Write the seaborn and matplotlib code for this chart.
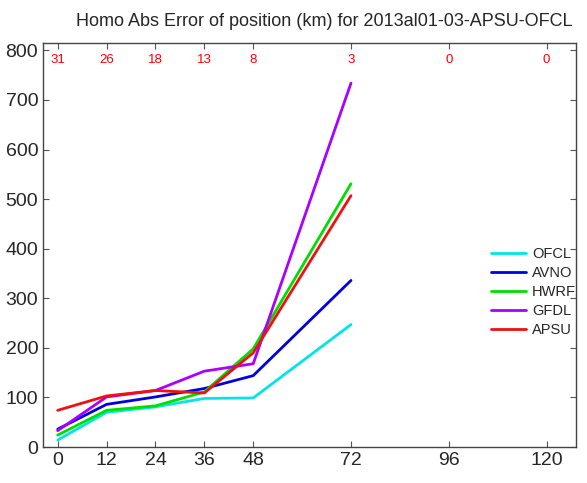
import matplotlib
matplotlib.use("Agg")

import matplotlib.pyplot as plt
import pandas as pd
import seaborn as sns

# forecast hours and the sample counts shown along the top
hours = [0, 12, 24, 36, 48, 72]
tick_hours = [0, 12, 24, 36, 48, 72, 96, 120]
counts = [31, 26, 18, 13, 8, 3, 0, 0]

models = ["OFCL", "AVNO", "HWRF", "GFDL", "APSU"]
ofcl = [14, 70, 81, 98, 99, 247]
avno = [36, 86, 101, 118, 144, 336]
hwrf = [24, 74, 83, 111, 198, 531]
gfdl = [33, 101, 114, 153, 168, 734]
apsu = [74, 103, 114, 109, 190, 507]

colors = ["#00e6e6", "#0000dd", "#00dd00", "#aa00ff", "#ee1111"]

rows = []
for name, vals in zip(models, [ofcl, avno, hwrf, gfdl, apsu]):
    for h, v in zip(hours, vals):
        rows.append({"hour": h, "error": v, "model": name})
df = pd.DataFrame(rows)

sns.set_style("ticks")
plt.rcParams["font.family"] = ["Liberation Sans", "DejaVu Sans"]

fig = plt.figure(figsize=(5.87, 4.83), dpi=100)
ax = fig.add_axes([0.0733, 0.0745, 0.9077, 0.8365])

sns.lineplot(data=df, x="hour", y="error", hue="model", hue_order=models,
             palette=colors, linewidth=2.0, ax=ax)

ax.set_xlim(-3.6, 127.2)
ax.set_ylim(0, 815)
ax.set_xticks(tick_hours)
ax.set_yticks(range(0, 801, 100))
ax.tick_params(direction="in", top=True, right=True, labelsize=14,
               length=4, color="#555555")
for s in ax.spines.values():
    s.set_color("#444444")
    s.set_linewidth(1.0)
ax.set_xlabel("")
ax.set_ylabel("")

for h, c in zip(tick_hours, counts):
    ax.text(h, 780, str(c), color="red", fontsize=9.5, ha="center", va="center")

ax.set_title("Homo Abs Error of position (km) for 2013al01-03-APSU-OFCL",
             fontsize=13, pad=12, x=0.527)

leg = ax.legend(loc="upper left", bbox_to_anchor=(0.83, 0.51), frameon=False,
                fontsize=10.5, handlelength=2.4, handletextpad=0.4,
                labelspacing=0.35, borderaxespad=0)
for line in leg.get_lines():
    line.set_linewidth(2.0)

fig.savefig("out.png", dpi=100)
